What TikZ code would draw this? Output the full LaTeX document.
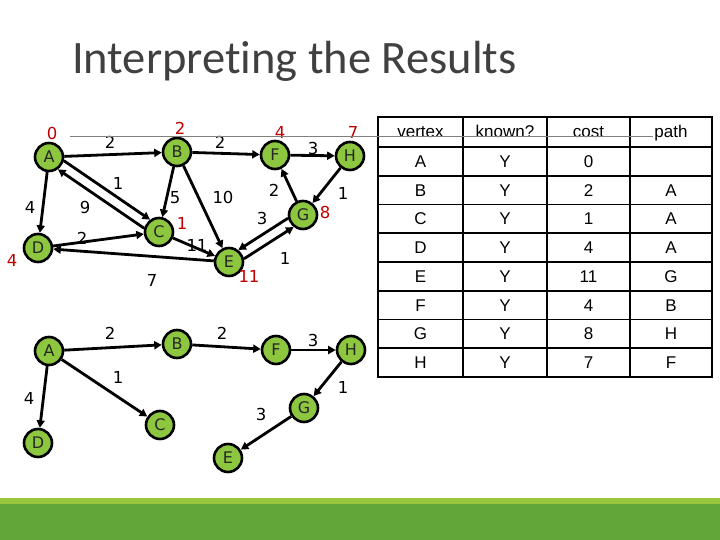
\documentclass[tikz,border=0pt]{standalone}
\usepackage{fontspec}
\setmainfont{Carlito}[Ligatures=NoCommon]
\newfontfamily\tabfont{Liberation Sans}
\newfontfamily\grfont{DejaVu Sans}
\usetikzlibrary{arrows.meta}
\definecolor{vgreen}{HTML}{8DC63F}
\definecolor{distred}{HTML}{C00000}
\definecolor{titlegray}{HTML}{404040}
\definecolor{bandlight}{HTML}{9BC53D}
\definecolor{banddark}{HTML}{62A539}
\tikzset{
  vtx/.style={circle, draw=black, line width=2.6pt, fill=vgreen, minimum size=28pt, inner sep=0pt,
    font=\grfont\fontsize{16}{16}\selectfont, text=black!85},
  edge/.style={line width=2.8pt, -{Triangle[length=7.5pt,width=8pt]}},
  wt/.style={font=\grfont\fontsize{16.5}{16.5}\selectfont, inner sep=0pt},
  dist/.style={wt, text=distred},
  cell/.style={font=\tabfont\fontsize{17}{17}\selectfont, inner sep=0pt, text height=12pt, text depth=0pt},
}
\begin{document}
\begin{tikzpicture}[x=1pt,y=-1pt]
\useasboundingbox (0,0) rectangle (720,540);
% bottom band
\fill[bandlight] (0,498) rectangle (720,504);
\fill[banddark] (0,504) rectangle (720,540);
% title
\node[anchor=base west, inner sep=0pt, text=titlegray, font=\fontsize{46.5}{46.5}\selectfont] (title) at (72,74) {Interpreting the Results};

% ---------- top graph ----------
\node[vtx] (tA) at (49,157) {A};
\node[vtx] (tB) at (177,152) {B};
\node[vtx] (tF) at (275,155) {F};
\node[vtx] (tH) at (350,156) {H};
\node[vtx] (tG) at (303,215) {G};
\node[vtx] (tC) at (159,232) {C};
\node[vtx] (tD) at (38,248) {D};
\node[vtx] (tE) at (229,262) {E};

\draw[edge] (tA) -- (tB);
\draw[edge] (tB) -- (tF);
\draw[edge] (tF) -- (tH);
\draw[edge] (tA) -- (tD);
\draw[edge] (tA.-14) -- (tC.126);
\draw[edge] (tC.166) -- (tA.-54);
\draw[edge] (tB) -- (tC);
\draw[edge] (tB) -- (tE);
\draw[edge] (tG) -- (tF);
\draw[edge] (tH) -- (tG);
\draw[edge] (tG.192) -- (tE.52);
\draw[edge] (tE.12) -- (tG.232);
\draw[edge] (tD) -- (tC);
\draw[edge] (tC) -- (tE);
\draw[edge] (tE) -- (tD);

\node[wt] (w1) at (110,142) {2};
\node[wt] (w2) at (220,142) {2};
\node[wt] (w3) at (313,148) {3};
\node[wt] (w4) at (118,183) {1};
\node[wt] (w5) at (30,207) {4};
\node[wt] (w6) at (85,207) {9};
\node[wt] (w7) at (175,198) {5};
\node[wt] (w8) at (223,197) {10};
\node[wt] (w9) at (274,190) {2};
\node[wt] (w10) at (343,193) {1};
\node[wt] (w11) at (262,218) {3};
\node[wt] (w12) at (82,238) {2};
\node[wt] (w13) at (197,245) {11};
\node[wt] (w14) at (285,258) {1};
\node[wt] (w15) at (152,280) {7};

\node[dist] (dA) at (52,133) {0};
\node[dist] (dB) at (180,128) {2};
\node[dist] (dF) at (280,132) {4};
\node[dist] (dH) at (353,132) {7};
\node[dist] (dG) at (325,212) {8};
\node[dist] (dC) at (182,223) {1};
\node[dist] (dD) at (12,260) {4};
\node[dist] (dE) at (249,276) {11};

% ---------- bottom graph ----------
\node[vtx] (bA) at (49,351) {A};
\node[vtx] (bB) at (177,344) {B};
\node[vtx] (bF) at (276,350) {F};
\node[vtx] (bH) at (351,350) {H};
\node[vtx] (bG) at (304,408) {G};
\node[vtx] (bC) at (160,425) {C};
\node[vtx] (bD) at (38,443) {D};
\node[vtx] (bE) at (228,458) {E};

\draw[edge] (bA) -- (bB);
\draw[edge] (bB) -- (bF);
\draw[edge] (bF) -- (bH);
\draw[edge] (bA) -- (bC);
\draw[edge] (bA) -- (bD);
\draw[edge] (bH) -- (bG);
\draw[edge] (bG) -- (bE);

\node[wt] (v1) at (110,333) {2};
\node[wt] (v2) at (222,333) {2};
\node[wt] (v3) at (313,340) {3};
\node[wt] (v4) at (118,377) {1};
\node[wt] (v5) at (29,398) {4};
\node[wt] (v6) at (343,387) {1};
\node[wt] (v7) at (261,414) {3};

% ---------- table ----------
\foreach \y in {147,175.75,204.5,233.25,262,290.75,319.5,348.25}
  \draw[line width=1.6pt] (378,\y) -- (712,\y);
\foreach \x in {463,547,630}
  \draw[line width=1.6pt] (\x,117) -- (\x,377);
\draw[line width=2.4pt] (378,117) rectangle (712,377);

\node[cell] (h1) at (420.5,132) {vertex};
\node[cell] (h2) at (505,132) {known?};
\node[cell] (h3) at (588.5,132) {cost};
\node[cell] (h4) at (671,132) {path};
\foreach \v/\k/\c/\p [count=\i] in {A/Y/0/{},B/Y/2/A,C/Y/1/A,D/Y/4/A,E/Y/11/G,F/Y/4/B,G/Y/8/H,H/Y/7/F}{
  \pgfmathsetmacro{\ry}{147+(\i-0.5)*28.75}
  \node[cell] (c\i a) at (420.5,\ry) {\v};
  \node[cell] (c\i b) at (505,\ry) {\k};
  \node[cell] (c\i c) at (588.5,\ry) {\c};
  \node[cell] (c\i d) at (671,\ry) {\p};
}
% thin title rule
\draw[gray, line width=0.9pt] (70,136) -- (653,136);
\end{tikzpicture}
\end{document}
